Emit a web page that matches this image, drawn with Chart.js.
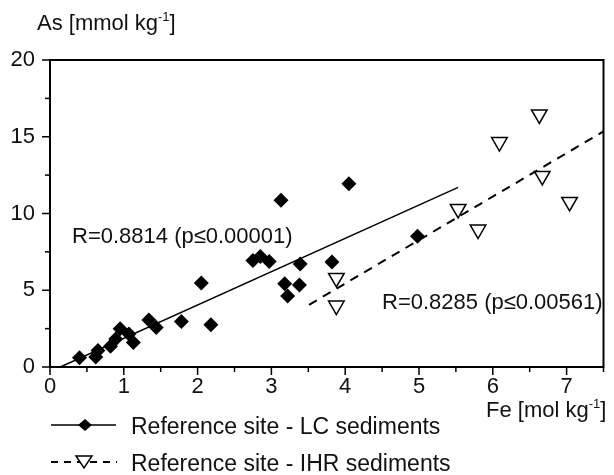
<!DOCTYPE html>
<html>
<head>
<meta charset="utf-8">
<script src="https://cdn.jsdelivr.net/npm/chart.js@4/dist/chart.umd.min.js"></script>
<style>
  html, body { margin: 0; padding: 0; background: #fff; }
  #wrap { width: 614px; height: 475px; position: relative; }
</style>
</head>
<body>
<div id="wrap"><canvas id="chart" width="614" height="475"></canvas></div>
<script>
// LC sediments (diamonds)
const lcFe = [0.40, 0.62, 0.65, 0.82, 0.89, 0.95, 1.07, 1.13, 1.34, 1.44, 1.78, 2.05, 2.18, 2.75, 2.85, 2.97, 3.13, 3.18, 3.22, 3.38, 3.39, 3.82, 4.05, 4.98];
const lcAs = [0.6, 0.65, 1.08, 1.35, 1.83, 2.5, 2.15, 1.6, 3.06, 2.58, 2.97, 5.48, 2.75, 6.93, 7.2, 6.88, 10.86, 5.42, 4.63, 5.34, 6.71, 6.84, 11.94, 8.52];
// IHR sediments (open triangles)
const ihrFe = [3.88, 3.88, 5.53, 5.80, 6.09, 6.63, 6.67, 7.04];
const ihrAs = [5.8, 4.0, 10.3, 8.95, 14.65, 16.45, 12.45, 10.75];
// regression lines (end points)
const lcFitFe = [0.14, 5.53];
const lcFitAs = [0, 11.7];
const ihrFitFe = [3.51, 7.5];
const ihrFitAs = [4.05, 15.35];

const xTicks = [0, 1, 2, 3, 4, 5, 6, 7];
const yTicks = [0, 5, 10, 15, 20];

const FONT = '"Liberation Sans", Arial, sans-serif';
const FS = 22;

function pts(xs, ys) {
    return xs.map((x, i) => ({ x: x, y: ys[i] }));
}

// frame, minor ticks, titles, annotations, legend
const extras = {
    id: 'extras',
    afterDraw(chart) {
        const ctx = chart.ctx;
        const a = chart.chartArea;
        const xs = chart.scales.x;
        const ys = chart.scales.y;
        ctx.save();
        ctx.strokeStyle = '#000';
        ctx.lineWidth = 2;
        ctx.strokeRect(a.left, a.top, a.right - a.left, a.bottom - a.top);

        ctx.lineWidth = 1.5;
        for (let v = 0; v <= 7.5; v += 0.5) {
            const px = xs.getPixelForValue(v);
            const len = Number.isInteger(v) ? 8 : 5;
            ctx.beginPath();
            ctx.moveTo(px, a.bottom);
            ctx.lineTo(px, a.bottom + len);
            ctx.stroke();
        }
        for (let v = 0; v <= 20; v += 2.5) {
            const py = ys.getPixelForValue(v);
            const len = (v % 5 === 0) ? 8 : 5;
            ctx.beginPath();
            ctx.moveTo(a.left, py);
            ctx.lineTo(a.left - len, py);
            ctx.stroke();
        }

        ctx.fillStyle = '#111';
        ctx.textBaseline = 'alphabetic';
        ctx.textAlign = 'left';
        function sup(base, supTxt, tail, x, y, size) {
            ctx.font = size + 'px ' + FONT;
            ctx.fillText(base, x, y);
            let w = ctx.measureText(base).width;
            ctx.font = Math.round(size * 0.6) + 'px ' + FONT;
            ctx.fillText(supTxt, x + w, y - size * 0.4);
            w += ctx.measureText(supTxt).width;
            ctx.font = size + 'px ' + FONT;
            ctx.fillText(tail, x + w, y);
        }
        sup('As [mmol kg', '-1', ']', 37, 30, FS);
        sup('Fe [mol kg', '-1', ']', 486, 417, FS);

        ctx.font = FS + 'px ' + FONT;
        ctx.fillText('R=0.8814 (p\u22640.00001)', 72, 243);
        ctx.fillText('R=0.8285 (p\u22640.00561)', 382, 309);

        // legend
        ctx.font = '23px ' + FONT;
        ctx.fillText('Reference site - LC sediments', 131, 434);
        ctx.fillText('Reference site - IHR sediments', 131, 471);
        ctx.lineWidth = 1.5;
        ctx.beginPath();
        ctx.moveTo(51, 425);
        ctx.lineTo(116, 425);
        ctx.stroke();
        ctx.fillStyle = '#000';
        ctx.beginPath();
        ctx.moveTo(85, 419); ctx.lineTo(92, 425); ctx.lineTo(85, 431); ctx.lineTo(78, 425);
        ctx.closePath();
        ctx.fill();

        ctx.lineWidth = 2;
        ctx.setLineDash([7, 6]);
        ctx.beginPath();
        ctx.moveTo(51, 462);
        ctx.lineTo(117, 462);
        ctx.stroke();
        ctx.setLineDash([]);
        ctx.fillStyle = '#fff';
        ctx.lineWidth = 1.5;
        ctx.beginPath();
        ctx.moveTo(76, 456); ctx.lineTo(92, 456); ctx.lineTo(84, 468);
        ctx.closePath();
        ctx.fill();
        ctx.stroke();
        ctx.restore();
    }
};

const chart = new Chart(document.getElementById('chart'), {
    type: 'scatter',
    data: {
        datasets: [
            {
                label: 'Reference site - LC sediments',
                data: pts(lcFe, lcAs),
                pointStyle: 'rectRot',
                pointRadius: 7.5,
                backgroundColor: '#000',
                borderColor: '#000',
                borderWidth: 0
            },
            {
                label: 'Reference site - IHR sediments',
                data: pts(ihrFe, ihrAs),
                pointStyle: 'triangle',
                rotation: 180,
                pointRadius: 9,
                backgroundColor: '#fff',
                borderColor: '#000',
                borderWidth: 1.5
            },
            {
                label: 'LC fit',
                data: pts(lcFitFe, lcFitAs),
                showLine: true,
                pointRadius: 0,
                borderColor: '#000',
                borderWidth: 1.5
            },
            {
                label: 'IHR fit',
                data: pts(ihrFitFe, ihrFitAs),
                showLine: true,
                pointRadius: 0,
                borderColor: '#000',
                borderWidth: 2,
                borderDash: [9, 7]
            }
        ]
    },
    options: {
        responsive: false,
        animation: false,
        layout: { padding: { left: 0, top: 60, right: 10, bottom: 80 } },
        plugins: {
            legend: { display: false },
            tooltip: { enabled: false }
        },
        scales: {
            x: {
                type: 'linear',
                min: 0,
                max: 7.5,
                afterBuildTicks: (s) => { s.ticks = xTicks.map(v => ({ value: v })); },
                afterFit: (s) => { s.height = 28; },
                grid: { display: false, drawTicks: false },
                border: { display: false },
                ticks: {
                    padding: 7,
                    color: '#111',
                    font: { family: FONT, size: FS }
                }
            },
            y: {
                type: 'linear',
                min: 0,
                max: 20,
                afterBuildTicks: (s) => { s.ticks = yTicks.map(v => ({ value: v })); },
                afterFit: (s) => { s.width = 50; },
                grid: { display: false, drawTicks: false },
                border: { display: false },
                ticks: {
                    padding: 15,
                    color: '#111',
                    font: { family: FONT, size: FS }
                }
            }
        }
    },
    plugins: [extras]
});
</script>
</body>
</html>
